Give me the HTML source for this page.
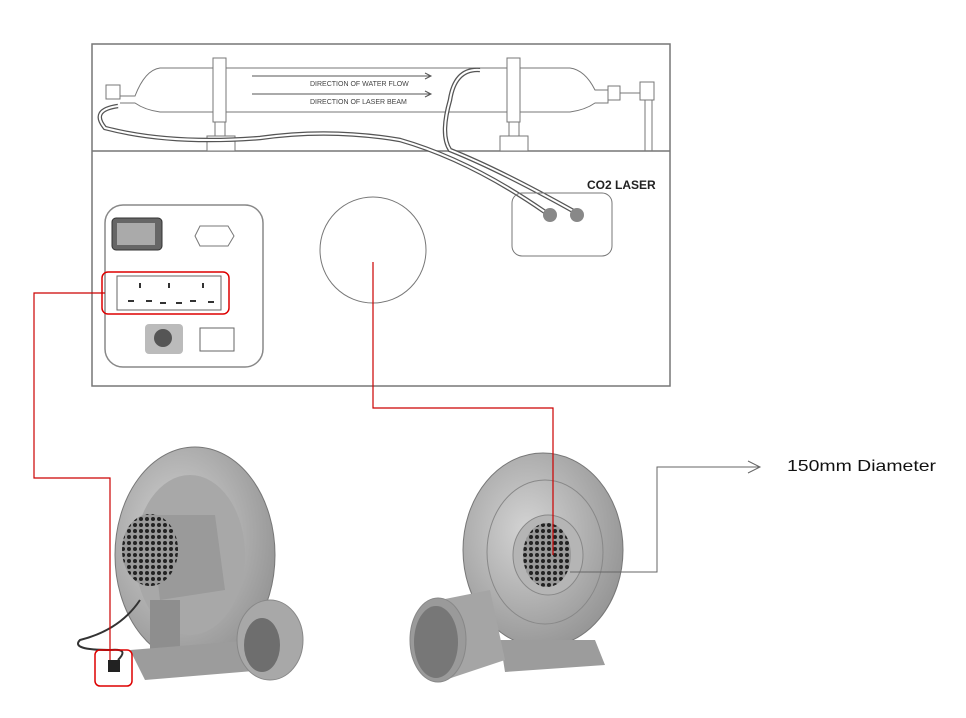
<!DOCTYPE html>
<html><head><meta charset="utf-8"><style>
body{margin:0;background:#fff;width:966px;height:713px;overflow:hidden;font-family:"Liberation Sans",sans-serif}
</style></head><body>
<svg width="966" height="713" viewBox="0 0 966 713" xmlns="http://www.w3.org/2000/svg">
<defs>
<radialGradient id="g1" cx="0.4" cy="0.4" r="0.7"><stop offset="0" stop-color="#d4d4d4"/><stop offset="1" stop-color="#909090"/></radialGradient>
<pattern id="hex" width="6" height="6" patternUnits="userSpaceOnUse"><rect width="6" height="6" fill="#999"/><circle cx="3" cy="3" r="2" fill="#222"/></pattern>
</defs>
<rect x="92" y="44" width="578" height="342" fill="none" stroke="#777" stroke-width="1.5"/>
<line x1="92" y1="151" x2="670" y2="151" stroke="#777" stroke-width="1.5"/>
<path d="M120,96 L135,96 Q145,70 160,68 L570,68 Q585,70 595,90 L608,90 L608,103 L595,103 Q585,110 570,112 L160,112 Q145,110 135,103 L120,103" fill="none" stroke="#777"/>
<rect x="106" y="85" width="14" height="14" fill="#fff" stroke="#777"/>
<rect x="608" y="86" width="12" height="14" fill="#fff" stroke="#777"/>
<line x1="620" y1="93" x2="640" y2="93" stroke="#777"/>
<rect x="640" y="82" width="14" height="18" fill="#fff" stroke="#777"/>
<line x1="645" y1="100" x2="645" y2="151" stroke="#777"/><line x1="652" y1="100" x2="652" y2="151" stroke="#777"/>
<rect x="213" y="58" width="13" height="64" fill="#fff" stroke="#777"/>
<rect x="215" y="122" width="10" height="14" fill="#fff" stroke="#777"/>
<rect x="207" y="136" width="28" height="15" fill="#fff" stroke="#777"/>
<rect x="507" y="58" width="13" height="64" fill="#fff" stroke="#777"/>
<rect x="509" y="122" width="10" height="14" fill="#fff" stroke="#777"/>
<rect x="500" y="136" width="28" height="15" fill="#fff" stroke="#777"/>
<line x1="252" y1="76" x2="430" y2="76" stroke="#555"/><path d="M425,73 L431,76 L425,79" fill="none" stroke="#555"/>
<line x1="252" y1="94" x2="430" y2="94" stroke="#555"/><path d="M425,91 L431,94 L425,97" fill="none" stroke="#555"/>
<text x="310" y="86" font-size="7" fill="#444">DIRECTION OF WATER FLOW</text>
<text x="310" y="104" font-size="7" fill="#444">DIRECTION OF LASER BEAM</text>
<path d="M118,106 Q90,110 105,128 Q170,145 260,138 Q330,128 400,140 Q470,160 545,212" fill="none" stroke="#555" stroke-width="4.5"/>
<path d="M118,106 Q90,110 105,128 Q170,145 260,138 Q330,128 400,140 Q470,160 545,212" fill="none" stroke="#fff" stroke-width="2"/>
<path d="M480,70 Q455,68 450,100 Q440,135 450,150 Q500,170 575,212" fill="none" stroke="#555" stroke-width="4.5"/>
<path d="M480,70 Q455,68 450,100 Q440,135 450,150 Q500,170 575,212" fill="none" stroke="#fff" stroke-width="2"/>
<text x="587" y="189" font-size="12" font-weight="bold" fill="#222">CO2 LASER</text>
<rect x="512" y="193" width="100" height="63" rx="10" fill="none" stroke="#777"/>
<circle cx="550" cy="215" r="7" fill="#888"/><circle cx="577" cy="215" r="7" fill="#888"/>
<circle cx="373" cy="250" r="53" fill="none" stroke="#777"/>
<rect x="105" y="205" width="158" height="162" rx="18" fill="none" stroke="#888" stroke-width="1.5"/>
<rect x="112" y="218" width="50" height="32" rx="4" fill="#666" stroke="#333"/>
<rect x="117" y="223" width="38" height="22" fill="#aaa"/>
<path d="M200,226 L228,226 L234,236 L228,246 L200,246 L195,236 Z" fill="none" stroke="#777"/>
<rect x="117" y="276" width="104" height="34" fill="none" stroke="#666"/>
<rect x="102" y="272" width="127" height="42" rx="6" fill="none" stroke="#d00" stroke-width="1.5"/>
<g fill="#333"><rect x="139" y="283" width="2" height="5"/><rect x="168" y="283" width="2" height="5"/><rect x="202" y="283" width="2" height="5"/>
<rect x="128" y="300" width="6" height="2"/><rect x="146" y="300" width="6" height="2"/><rect x="160" y="302" width="6" height="2"/><rect x="176" y="302" width="6" height="2"/><rect x="190" y="300" width="6" height="2"/><rect x="208" y="301" width="6" height="2"/></g>
<rect x="145" y="324" width="38" height="30" rx="4" fill="#bbb"/><circle cx="163" cy="338" r="9" fill="#555"/>
<rect x="200" y="328" width="34" height="23" fill="none" stroke="#666"/>
<ellipse cx="195" cy="555" rx="80" ry="108" fill="url(#g1)" stroke="#777"/>
<ellipse cx="190" cy="555" rx="55" ry="80" fill="#a8a8a8"/>
<path d="M150,515 L215,515 L225,590 L160,600 Z" fill="#9a9a9a"/>
<ellipse cx="150" cy="550" rx="28" ry="36" fill="url(#hex)"/>
<rect x="150" y="600" width="30" height="60" fill="#8e8e8e"/>
<path d="M130,650 L255,640 L265,670 L145,680 Z" fill="#9c9c9c"/>
<ellipse cx="270" cy="640" rx="33" ry="40" fill="#a8a8a8" stroke="#888"/>
<ellipse cx="262" cy="645" rx="18" ry="27" fill="#6e6e6e"/>
<path d="M140,600 Q120,630 80,640 Q70,650 110,650 Q130,648 118,660" fill="none" stroke="#333" stroke-width="2"/>
<rect x="108" y="660" width="12" height="12" fill="#222"/>
<ellipse cx="543" cy="550" rx="80" ry="97" fill="url(#g1)" stroke="#777"/>
<ellipse cx="545" cy="552" rx="58" ry="72" fill="none" stroke="#888"/>
<ellipse cx="548" cy="555" rx="35" ry="40" fill="#b5b5b5" stroke="#888"/>
<ellipse cx="547" cy="555" rx="24" ry="32" fill="url(#hex)"/>
<path d="M500,640 L595,640 L605,665 L505,672 Z" fill="#9c9c9c"/>
<path d="M440,600 L490,590 L505,660 L445,680 Z" fill="#a5a5a5"/>
<ellipse cx="438" cy="640" rx="28" ry="42" fill="#9a9a9a" stroke="#888"/>
<ellipse cx="436" cy="642" rx="22" ry="36" fill="#777"/>
<polyline points="105,293 34,293 34,478 110,478 110,660" fill="none" stroke="#c00" stroke-width="1.2"/>
<rect x="95" y="650" width="37" height="36" rx="5" fill="none" stroke="#d00" stroke-width="1.5"/>
<polyline points="373,262 373,408 553,408 553,555" fill="none" stroke="#c00" stroke-width="1.2"/>
<polyline points="570,572 657,572 657,467 760,467" fill="none" stroke="#666" stroke-width="1"/>
<path d="M748,461 L760,467 L748,473" fill="none" stroke="#666"/>
<text x="787" y="471" font-size="16" fill="#111" textLength="149" lengthAdjust="spacingAndGlyphs">150mm Diameter</text>
</svg>
</body></html>
